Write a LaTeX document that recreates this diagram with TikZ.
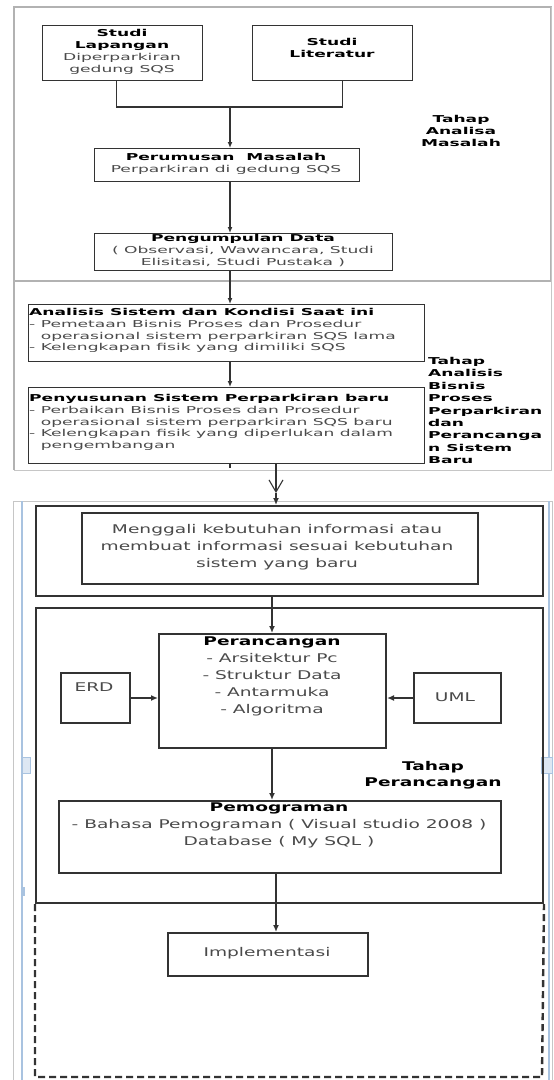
\documentclass[tikz,border=0pt]{standalone}
\usepackage{fontspec}
\usetikzlibrary{arrows.meta,calc}
\newfontfamily\topfont{DejaVu Sans}[FakeStretch=1.8]
\newfontfamily\botfont{DejaVu Sans}[FakeStretch=1.55]
\definecolor{ink}{HTML}{333333}
\definecolor{softtxt}{HTML}{4A4A4A}
\definecolor{pageblue}{HTML}{A9C3E0}
\newcommand\boxhead[1]{\textcolor{black}{\bfseries #1}}

\begin{document}
\begin{tikzpicture}[x=1pt,y=-1pt,
  frame/.style={draw=gray!60, line width=1.6pt},
  tbox/.style={draw=ink, line width=1.3pt, inner sep=0pt, anchor=north west},
  bbox/.style={draw=ink, line width=2pt, inner sep=0pt, anchor=north west},
  ttext/.style={font=\topfont\fontsize{9.5}{12}\selectfont, text=softtxt, inner sep=0pt, align=center},
  tleft/.style={font=\topfont\fontsize{9.5}{11.8}\selectfont, text=softtxt, inner sep=0pt, align=left, anchor=north west},
  btext/.style={font=\botfont\fontsize{12}{16.8}\selectfont, text=softtxt, inner sep=0pt, align=center},
  phase/.style={font=\topfont\fontsize{9.5}{12.4}\selectfont\bfseries, text=black, inner sep=0pt},
  bphase/.style={font=\botfont\fontsize{12}{16}\selectfont\bfseries, text=black, inner sep=0pt, align=center},
  link/.style={draw=ink, line width=1.3pt},
  flow/.style={draw=ink, line width=1.3pt, -{Latex[length=6pt,width=5pt]}},
  bflow/.style={draw=ink, line width=1.6pt, -{Latex[length=7pt,width=6pt]}},
  pageline/.style={draw=gray!45, line width=0.8pt},
  pagecolor/.style={draw=pageblue, line width=1.6pt}
]
\useasboundingbox (0,0) rectangle (554,1080);
\fill[white] (0,0) rectangle (554,1080);

% ---------- stage 1: problem analysis ----------
\draw[frame] (14,7) rectangle (551,281);
\coordinate (cA) at (230,0);
\coordinate (jn) at (230,107);

\node[tbox, minimum width=160pt, minimum height=55pt] (lap) at (42,25) {};
\node[ttext] (lapt) at (122,52) {\boxhead{Studi}\\\boxhead{Lapangan}\\Diperparkiran\\gedung SQS};
\node[tbox, minimum width=160pt, minimum height=55pt] (lit) at (252,25) {};
\node[ttext] (litt) at (332,48) {\boxhead{Studi}\\\boxhead{Literatur}};

\node[phase, align=center] (ph1) at (461,131) {Tahap\\Analisa\\Masalah};

\node[tbox, minimum width=265pt, minimum height=33pt] (per) at (94,148) {};
\node[ttext] (pert) at (226,164) {\boxhead{Perumusan\ \ Masalah}\\Perparkiran di gedung SQS};

\node[tbox, minimum width=298pt, minimum height=37pt] (pen) at (94,233) {};
\node[ttext] (pent) at (243,251) {\boxhead{Pengumpulan Data}\\( Observasi, Wawancara, Studi\\Elisitasi, Studi Pustaka )};

\draw[link] ($(lap.south)+(-6,0)$) |- (jn) -| ($(lit.south)+(10,0)$);
\draw[flow] (jn) -- (jn |- per.north);
\draw[flow] (per.south -| cA) -- (pen.north -| cA);

% ---------- stage 2: business process analysis ----------
\draw[frame] (14,281) -- (551,281);
\draw[frame] (14,281) -- (14,470);
\draw[pageline] (14,470) -- (551,470) -- (551,7);

\node[tbox, minimum width=396pt, minimum height=57pt] (ana) at (28,304) {};
\node[tleft] (anat) at (29,308) {\boxhead{Analisis Sistem dan Kondisi Saat ini}\\- Pemetaan Bisnis Proses dan Prosedur\\\hphantom{-\ }operasional sistem perparkiran SQS lama\\- Kelengkapan fisik yang dimiliki SQS};

\node[tbox, minimum width=396pt, minimum height=76pt] (pny) at (28,387) {};
\node[tleft] (pnyt) at (29,394) {\boxhead{Penyusunan Sistem Perparkiran baru}\\- Perbaikan Bisnis Proses dan Prosedur\\\hphantom{-\ }operasional sistem perparkiran SQS baru\\- Kelengkapan fisik yang diperlukan dalam\\\hphantom{-\ }pengembangan};

\node[phase, align=left, anchor=north west] (ph2) at (428,357) {Tahap\\Analisis\\Bisnis\\Proses\\Perparkiran\\dan\\Perancanga\\n Sistem\\Baru};

\draw[flow] (pen.south -| cA) -- (ana.north -| cA);
\draw[flow] (ana.south -| cA) -- (pny.north -| cA);
\draw[link] (pny.south -| cA) -- ++(0,4);

% ---------- page edges around stage 3 ----------
\draw[pageline] (13,501) -- (552,501);
\draw[pageline] (13,501) -- (13,1080);
\draw[pagecolor] (22,501) -- (22,1080);
\draw[pagecolor] (549,501) -- (549,1080);
\draw[pageline] (552,501) -- (552,1080);
\filldraw[draw=pageblue, fill=pageblue!40, line width=0.8pt] (22,757) rectangle (30,773);
\filldraw[draw=pageblue, fill=pageblue!40, line width=0.8pt] (541,757) rectangle (552,773);
\fill[pageblue] (22,887) rectangle (25,896);

% ---------- stage 3: design ----------
\coordinate (vtip) at (276,493);
\coordinate (cB) at (272,0);
\coordinate (cC) at (276,0);

\node[bbox, minimum width=507pt, minimum height=90pt] (mfr) at (35,505) {};
\node[bbox, minimum width=396pt, minimum height=71pt] (mgl) at (81,512) {};
\node[btext] (mglt) at (277,547) {Menggali kebutuhan informasi atau\\membuat informasi sesuai kebutuhan\\sistem yang baru};

\draw[draw=ink, line width=1.1pt, -{Straight Barb[length=12pt,width=14pt,line width=1.1pt]}] (pny.south -| vtip) -- (vtip);
\draw[bflow] (vtip) -- (vtip |- mfr.north);

\node[bbox, minimum width=507pt, minimum height=295pt] (prf) at (35,607) {};

\node[bbox, minimum width=227pt, minimum height=114pt] (prn) at (158,633) {};
\node[btext, anchor=north] (prnt) at (272,637) {\boxhead{Perancangan}\\- Arsitektur Pc\\- Struktur Data\\- Antarmuka\\- Algoritma};

\node[bbox, minimum width=69pt, minimum height=50pt] (erd) at (60,672) {};
\node[btext] (erdt) at (94,687) {ERD};
\node[bbox, minimum width=87pt, minimum height=50pt] (uml) at (413,672) {};
\node[btext] (umlt) at (455,697) {UML};

\node[bphase] (ph3) at (433,775) {Tahap\\Perancangan};

\node[bbox, minimum width=442pt, minimum height=72pt] (pmg) at (58,800) {};
\node[btext, anchor=north] (pmgt) at (279,803) {\boxhead{Pemograman}\\- Bahasa Pemograman ( Visual studio 2008 )\\Database ( My SQL )};

\node[bbox, minimum width=200pt, minimum height=43pt] (imp) at (167,932) {};
\node[btext] (impt) at (267,953) {Implementasi};

\draw[bflow] (mfr.south -| cB) -- (prn.north -| cB);
\draw[bflow] (erd.east) -- (erd.east -| prn.west);
\draw[bflow] (uml.west |- erd.east) -- (erd.east -| prn.east);
\draw[bflow] (prn.south -| cB) -- (pmg.north -| cB);
\draw[bflow] (pmg.south -| cC) -- (imp.north -| cC);

% implementation stage, dashed
\draw[draw=ink, line width=2.4pt, dash pattern=on 7pt off 4pt] (prf.south west) -- (35,1077) -- (542,1077) -- (prf.south east);
\end{tikzpicture}
\end{document}
